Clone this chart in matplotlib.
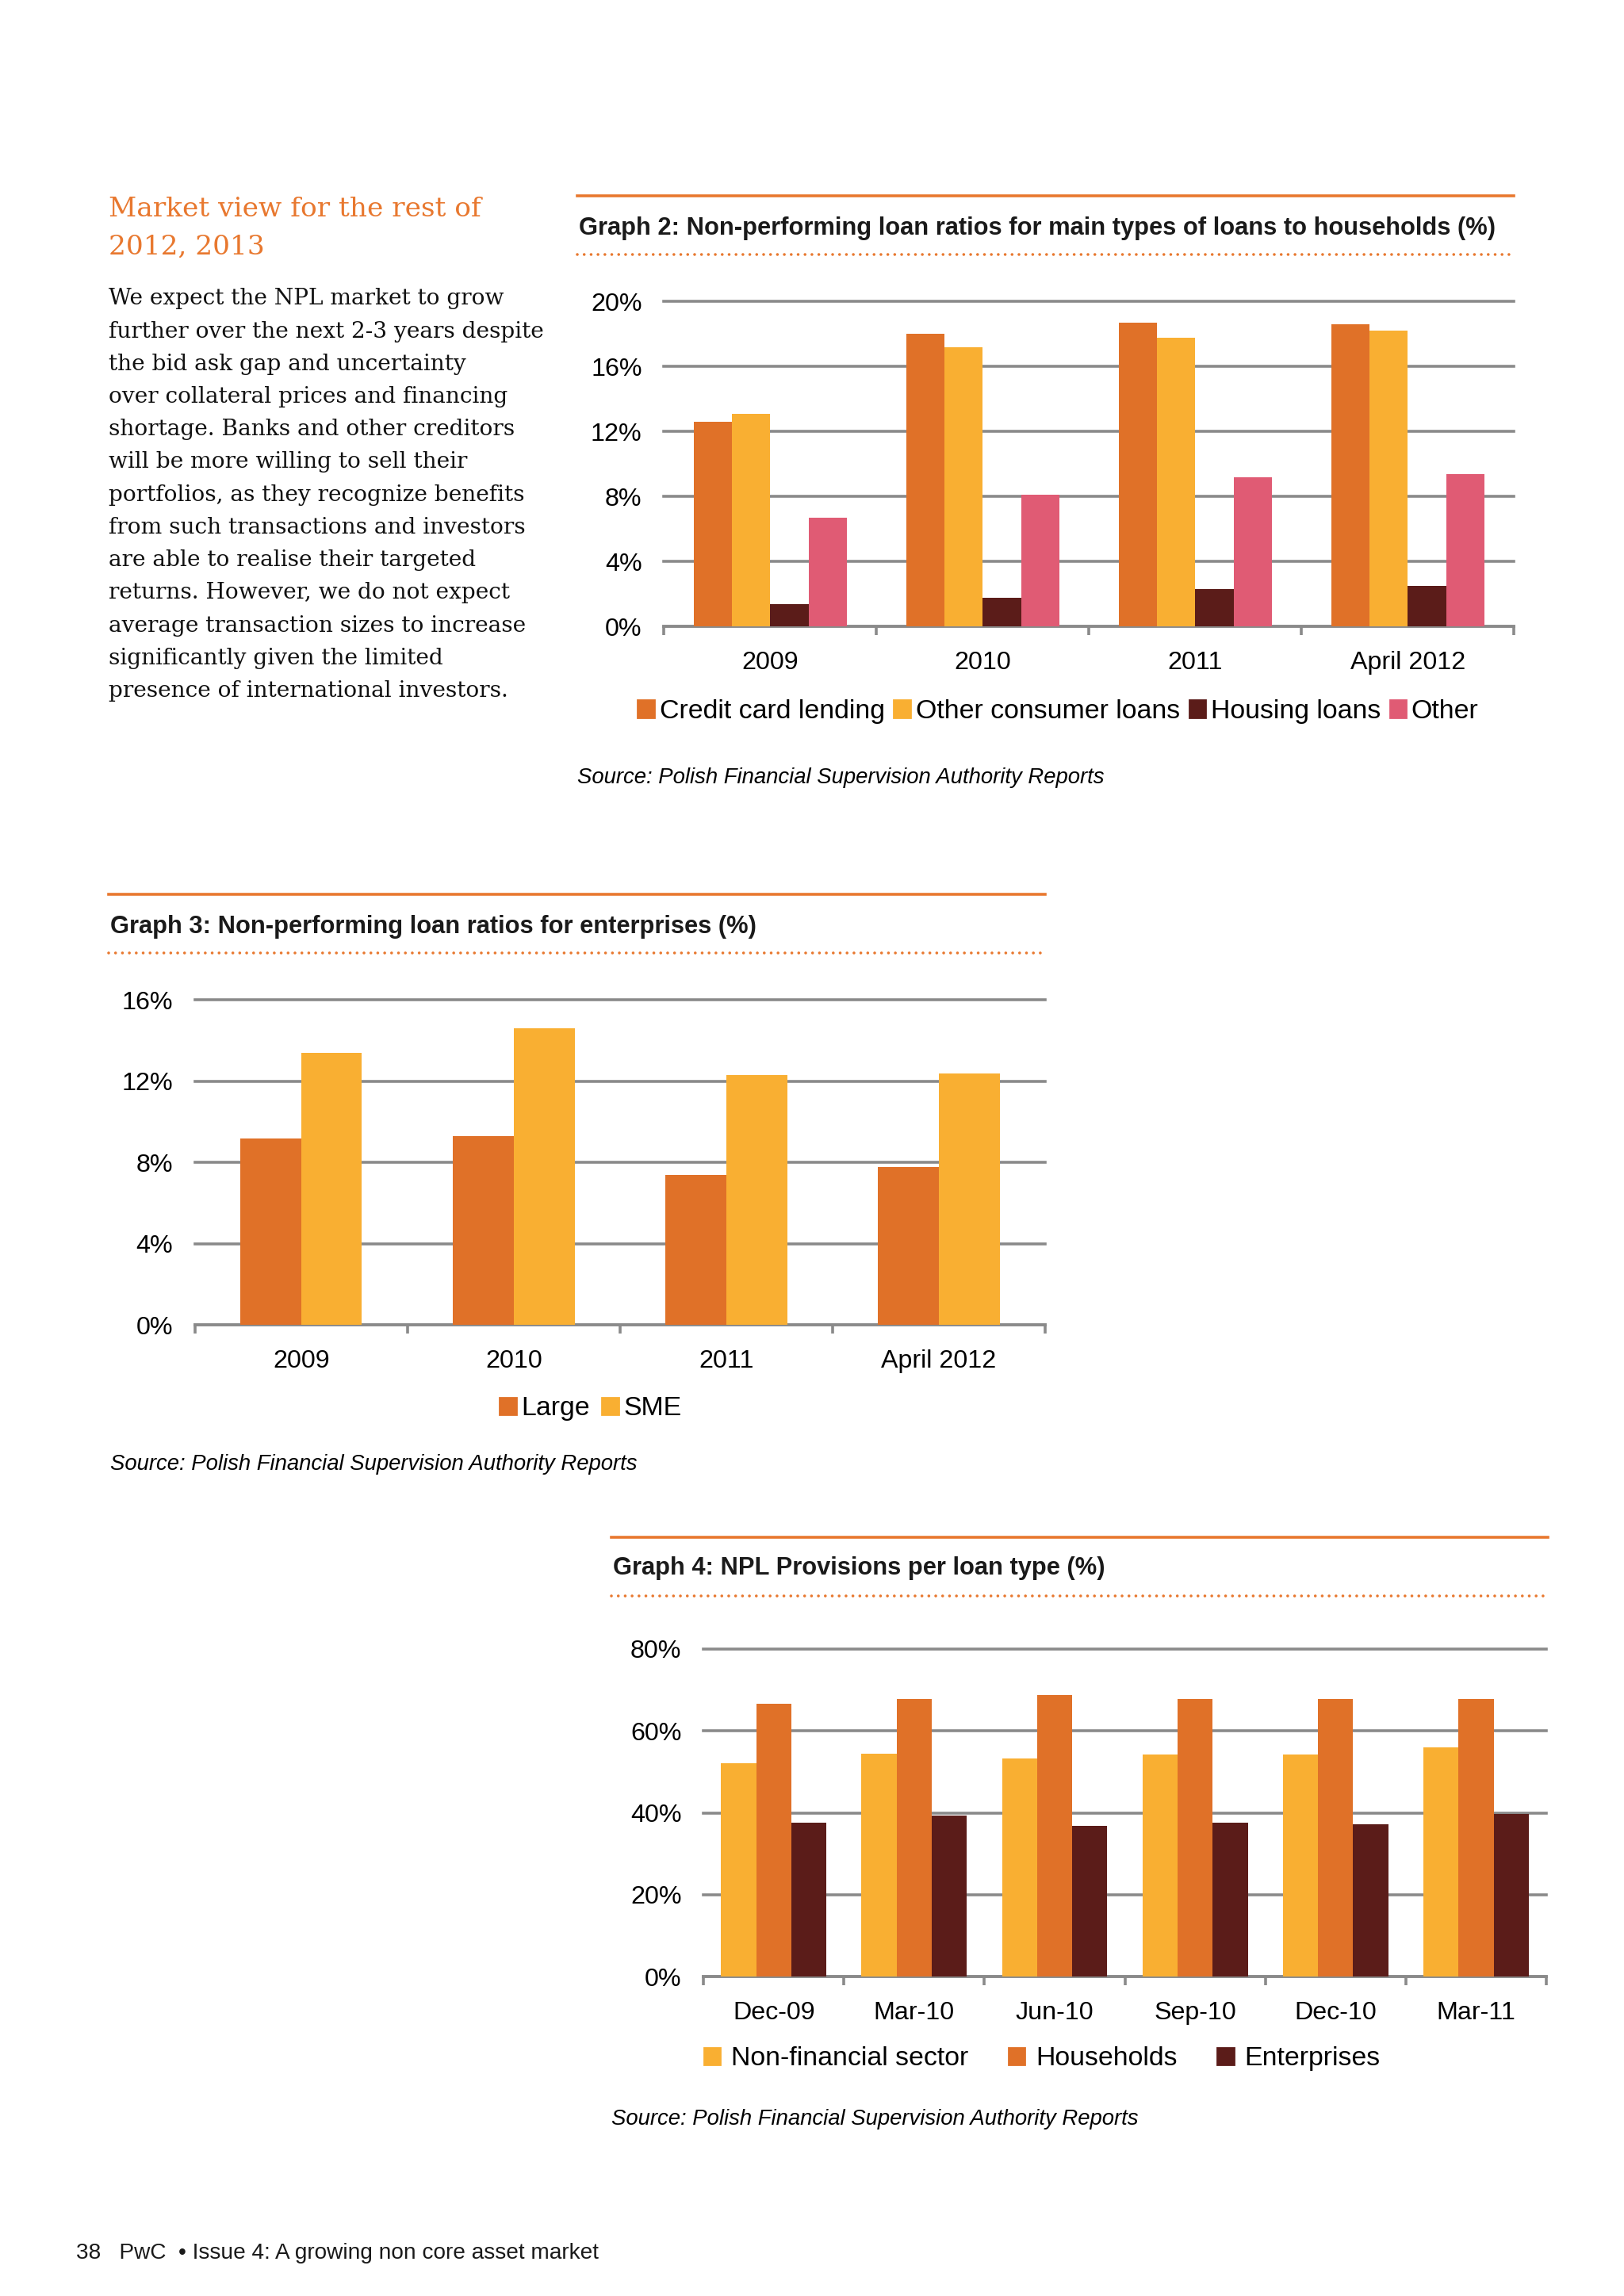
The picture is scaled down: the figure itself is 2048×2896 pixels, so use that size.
import numpy as np
import matplotlib
matplotlib.use("Agg")
import matplotlib.pyplot as plt
from matplotlib.lines import Line2D

plt.rcParams['font.family'] = ['Liberation Sans', 'DejaVu Sans']

# ---- data --------------------------------------------------------------
years = ['2009', '2010', '2011', 'April 2012']
hh_labels = ['Credit card lending', 'Other consumer loans', 'Housing loans', 'Other']
credit_card = [12.6, 18.0, 18.7, 18.6]
other_consumer = [13.1, 17.2, 17.8, 18.2]
housing = [1.4, 1.8, 2.3, 2.5]
other = [6.7, 8.1, 9.2, 9.4]

ent_labels = ['Large', 'SME']
large = [9.2, 9.3, 7.4, 7.8]
sme = [13.4, 14.6, 12.3, 12.4]

quarters = ['Dec-09', 'Mar-10', 'Jun-10', 'Sep-10', 'Dec-10', 'Mar-11']
prov_labels = ['Non-financial sector', 'Households', 'Enterprises']
non_financial = [52.0, 54.5, 53.3, 54.2, 54.2, 56.0]
households = [66.5, 67.7, 68.8, 67.7, 67.7, 67.7]
enterprises = [37.5, 39.4, 36.8, 37.5, 37.2, 39.8]

heading = ['Market view for the rest of', '2012, 2013']
body = [
    'We expect the NPL market to grow',
    'further over the next 2-3 years despite',
    'the bid ask gap and uncertainty',
    'over collateral prices and financing',
    'shortage. Banks and other creditors',
    'will be more willing to sell their',
    'portfolios, as they recognize benefits',
    'from such transactions and investors',
    'are able to realise their targeted',
    'returns. However, we do not expect',
    'average transaction sizes to increase',
    'significantly given the limited',
    'presence of international investors.',
]
source = 'Source: Polish Financial Supervision Authority Reports'

# ---- style -------------------------------------------------------------
ORANGE = '#E07128'
YELLOW = '#F9AF32'
DARK = '#5B1C19'
PINK = '#E05B74'
GRID = '#8A8A8A'
ACCENT = '#E8782F'

W, H = 1108.0, 1568.0   # layout measured on a 1108x1568 view of the page


def fx(x):
    return x / W


def fy(y):
    return 1 - y / H


def rect(x0, x1, ytop, ybot):
    return [fx(x0), fy(ybot), (x1 - x0) / W, (ybot - ytop) / H]


fig = plt.figure(figsize=(10.24, 14.48), dpi=200)
fig.patch.set_facecolor('white')


def title_block(x0, x1, y_line, y_title, y_dots, title):
    fig.add_artist(Line2D([fx(x0), fx(x1)], [fy(y_line)] * 2, transform=fig.transFigure,
                          color=ACCENT, lw=1.3))
    fig.add_artist(Line2D([fx(x0), fx(x1)], [fy(y_dots)] * 2, transform=fig.transFigure,
                          color=ACCENT, lw=1.3, linestyle=(0, (0.01, 2.4)),
                          dash_capstyle='round'))
    fig.text(fx(x0 + 1), fy(y_title), title, fontsize=11.1, fontweight='bold',
             color='#1a1a1a', ha='left', va='center')


def bar_panel(ax, cats, series, colors, width, ymax, step):
    n = len(series)
    x = np.arange(len(cats))
    for i, (vals, c) in enumerate(zip(series, colors)):
        ax.bar(x + (i - (n - 1) / 2) * width, vals, width, color=c, zorder=3)
    ax.set_xlim(-0.5, len(cats) - 0.5)
    ax.set_ylim(0, ymax)
    ticks = np.arange(0, ymax + 0.01, step)
    ax.set_yticks(ticks)
    ax.set_yticklabels(['%d%%' % t for t in ticks])
    for t in ticks[1:]:
        ax.axhline(t, color=GRID, lw=1.3, zorder=1, clip_on=False)
    ax.set_xticks(np.arange(len(cats) + 1) - 0.5)
    ax.set_xticklabels([])
    ax.set_xticks(x, minor=True)
    ax.set_xticklabels(cats, minor=True)
    for s in ['top', 'right', 'left']:
        ax.spines[s].set_visible(False)
    ax.spines['bottom'].set_color(GRID)
    ax.spines['bottom'].set_linewidth(1.4)
    ax.tick_params(axis='x', which='major', length=4, width=1.3, color=GRID)
    ax.tick_params(axis='x', which='minor', length=0, pad=11, labelsize=11.6)
    ax.tick_params(axis='y', length=0, pad=10, labelsize=11.6)
    ax.set_facecolor('none')


def legend(ax, labels, colors, cx, cy, colspace, textpad):
    handles = [plt.Rectangle((0, 0), 1, 1, color=c) for c in colors]
    fig.legend(handles, labels, loc='center', bbox_to_anchor=(fx(cx), fy(cy)),
               ncol=len(labels), frameon=False, fontsize=12.2, handlelength=0.6,
               handleheight=0.6, handletextpad=textpad, columnspacing=colspace,
               borderaxespad=0, borderpad=0)


# ---- left text column ----------------------------------------------------
for i, line in enumerate(heading):
    fig.text(fx(74), fy(143 + i * 26), line, fontsize=12.4, color=ACCENT,
             family='DejaVu Serif', ha='left', va='center')
for i, line in enumerate(body):
    fig.text(fx(74), fy(204 + i * 22.33), line, fontsize=10.1, color='#111111',
             family='DejaVu Serif', ha='left', va='center')

# ---- Graph 2 ---------------------------------------------------------------
title_block(394, 1033, 134, 156, 174,
            'Graph 2: Non-performing loan ratios for main types of loans to households (%)')
ax2 = fig.add_axes(rect(453, 1033, 206, 428))
bar_panel(ax2, years, [credit_card, other_consumer, housing, other],
          [ORANGE, YELLOW, DARK, PINK], 0.18, 20, 4)
legend(ax2, hh_labels, [ORANGE, YELLOW, DARK, PINK], 722, 486, 0.35, 0.2)
fig.text(fx(394), fy(531), source, fontsize=9.9, style='italic', ha='left', va='center')

# ---- Graph 3 ---------------------------------------------------------------
title_block(74, 713, 611, 633, 651, 'Graph 3: Non-performing loan ratios for enterprises (%)')
ax3 = fig.add_axes(rect(133, 713, 683, 905))
bar_panel(ax3, years, [large, sme], [ORANGE, YELLOW], 0.286, 16, 4)
legend(ax3, ent_labels, [ORANGE, YELLOW], 403, 962, 0.45, 0.2)
fig.text(fx(75), fy(1000), source, fontsize=9.9, style='italic', ha='left', va='center')

# ---- Graph 4 ---------------------------------------------------------------
title_block(417, 1056, 1050, 1071, 1090, 'Graph 4: NPL Provisions per loan type (%)')
ax4 = fig.add_axes(rect(480, 1055, 1126, 1350))
bar_panel(ax4, quarters, [non_financial, households, enterprises],
          [YELLOW, ORANGE, DARK], 0.25, 80, 20)
legend(ax4, prov_labels, [YELLOW, ORANGE, DARK], 711, 1406, 1.5, 0.4)
fig.text(fx(417), fy(1447), source, fontsize=9.9, style='italic', ha='left', va='center')

# ---- footer ----------------------------------------------------------------
fig.text(fx(52), fy(1539), '38   PwC  \u2022 Issue 4: A growing non core asset market',
         fontsize=10.1, ha='left', va='center', color='#1a1a1a')

fig.savefig('out.png', dpi=200, facecolor='white')
